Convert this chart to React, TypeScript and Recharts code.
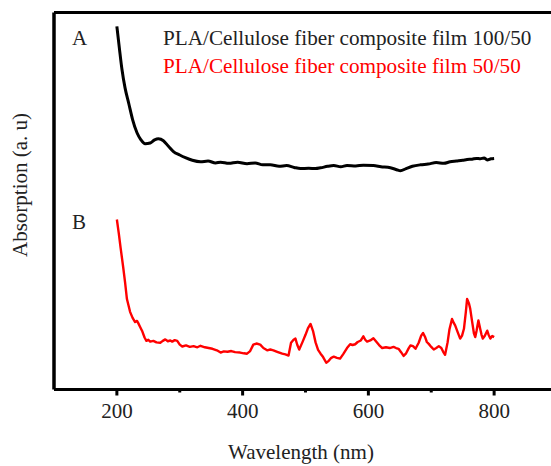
import React from 'react';
import { LineChart, Line, XAxis, YAxis, Legend, ReferenceLine, Label } from 'recharts';

const FONT = '"Liberation Serif", "Times New Roman", serif';

const xTicks = [200, 300, 400, 500, 600, 700, 800];
const majorTicks = [200, 400, 600, 800];

const seriesNames = [
  'PLA/Cellulose fiber composite film 100/50',
  'PLA/Cellulose fiber composite film 50/50',
];
const panelLabels = ['A', 'B'];

const blackWavelength = [
  200, 204, 208, 213, 219, 225, 232, 238, 245, 253, 260, 266, 274, 282, 290, 300, 309, 320, 333, 345,
  357, 365, 378, 392, 407, 420, 432, 444, 458, 470, 482, 492, 505, 516, 524, 535, 545, 556, 566, 580,
  592, 608, 620, 635, 645, 651, 660, 670, 683, 695, 708, 720, 730, 740, 750, 757, 765, 772, 778, 784,
  789, 795, 800,
];
const blackAbsorption = [
  96.3, 90.5, 85.0, 80.0, 75.8, 71.6, 68.1, 66.3, 65.2, 65.4, 66.2, 66.5, 66.0, 64.5, 63.1, 62.2, 61.5, 60.8, 60.4, 60.6,
  60.1, 60.3, 60.0, 60.3, 59.9, 60.1, 59.6, 59.6, 59.2, 59.4, 58.9, 58.6, 58.7, 58.6, 58.8, 59.2, 59.4, 59.1, 59.4, 59.3,
  59.5, 59.4, 59.1, 58.8, 58.3, 58.0, 58.6, 59.2, 59.6, 59.8, 60.2, 60.0, 60.4, 60.6, 60.8, 61.0, 61.1, 61.3, 61.2, 61.4,
  60.9, 61.2, 61.3,
];

const redWavelength = [
  200, 203, 206, 210, 213, 216, 221, 225, 229, 232, 234, 237, 240, 244, 247, 250, 253, 258, 263, 269,
  273, 277, 281, 285, 288, 292, 296, 300, 304, 310, 316, 322, 328, 333, 340, 346, 352, 359, 365, 370,
  376, 382, 388, 396, 402, 407, 412, 417, 422, 428, 433, 439, 444, 449, 455, 463, 468, 473, 477, 481,
  484, 487, 490, 495, 500, 504, 508, 512, 516, 520, 524, 528, 533, 537, 541, 545, 550, 555, 560, 566,
  571, 575, 579, 583, 588, 592, 595, 598, 603, 608, 612, 617, 622, 628, 634, 640, 644, 648, 652, 656,
  660, 664, 667, 671, 675, 680, 684, 687, 690, 693, 696, 700, 704, 708, 712, 716, 719, 722, 726, 729,
  733, 736, 738, 742, 746, 749, 752, 755, 757, 760, 762, 765, 768, 770, 772, 775, 778, 780, 782, 785,
  789, 791, 794, 797, 800,
];
const redAbsorption = [
  45.1, 41.5, 37.5, 32.5, 28.5, 24.0, 20.6, 19.0, 17.9, 18.2, 17.6, 16.6, 15.6, 13.8, 12.9, 13.2, 12.7, 12.9, 12.5, 12.4,
  12.9, 13.3, 12.8, 13.0, 12.7, 13.1, 12.9, 11.9, 11.4, 11.7, 11.3, 11.5, 11.2, 11.6, 11.2, 11.0, 10.8, 10.4, 9.8, 10.1,
  10.0, 10.2, 9.9, 9.8, 9.6, 9.5, 10.2, 11.9, 12.2, 11.9, 11.0, 10.4, 10.6, 10.4, 10.0, 9.5, 9.3, 9.0, 12.4, 13.2,
  13.5, 11.8, 10.6, 12.5, 14.5, 16.3, 17.4, 15.5, 12.5, 10.5, 9.5, 8.6, 7.1, 7.6, 8.4, 8.7, 8.4, 8.2, 9.4, 11.0,
  12.0, 11.8, 12.0, 12.6, 13.0, 14.1, 13.2, 12.7, 13.0, 13.6, 12.8, 11.8, 11.0, 11.2, 11.0, 11.3, 11.0, 10.8, 9.9, 8.9,
  9.6, 10.9, 11.7, 11.5, 10.8, 12.4, 14.3, 15.0, 14.0, 12.6, 12.1, 11.3, 10.6, 11.0, 11.5, 11.0, 10.0, 9.2, 12.5, 16.0,
  18.7, 17.6, 17.0, 15.2, 13.5, 14.3, 16.1, 20.5, 24.0, 22.8, 21.4, 18.0, 14.8, 13.9, 15.5, 18.3, 16.0, 14.5, 13.5, 14.2,
  15.6, 14.6, 13.5, 14.2, 13.9,
];

const blackData = blackWavelength.map((x, i) => ({ x, y: blackAbsorption[i] }));
const redData = redWavelength.map((x, i) => ({ x, y: redAbsorption[i] }));

const renderTick = (props: any) => {
  const { x, y, payload } = props;
  const major = majorTicks.includes(payload.value);
  return (
    <g>
      <line x1={x} x2={x} y1={y} y2={y + (major ? 6 : 3)} stroke="#000" strokeWidth={3} />
      {major && (
        <text x={x} y={y + 28.5} textAnchor="middle" fontFamily={FONT} fontSize={21} fill="#222">
          {payload.value}
        </text>
      )}
    </g>
  );
};

const xLabel = () => (
  <text x={301} y={459} textAnchor="middle" fontFamily={FONT} fontSize={21} fill="#222">
    Wavelength (nm)
  </text>
);

const yLabel = () => (
  <text
    x={27}
    y={185}
    textAnchor="middle"
    transform="rotate(-90, 27, 185)"
    fontFamily={FONT}
    fontSize={21}
    fill="#222"
  >
    Absorption (a. u)
  </text>
);

const renderOverlay = () => (
  <svg width={551} height={466} style={{ position: 'absolute', left: 0, top: 0 }}>
    <text x={72} y={45} fontFamily={FONT} fontSize={21} fill="#222">{panelLabels[0]}</text>
    <text x={72} y={229} fontFamily={FONT} fontSize={21} fill="#222">{panelLabels[1]}</text>
    <text x={163} y={45} fontFamily={FONT} fontSize={21.2} fill="#222">{seriesNames[0]}</text>
    <text x={163} y={73} fontFamily={FONT} fontSize={21.2} fill="#ff0000">{seriesNames[1]}</text>
  </svg>
);

export default function App() {
  return (
    <div style={{ position: 'absolute', left: 0, top: 0, width: 551, height: 466, overflow: 'hidden', background: '#fff' }}>
      <LineChart width={560} height={466} margin={{ top: 12.5, right: 3, bottom: 0, left: 0 }}>
        <XAxis
          type="number"
          dataKey="x"
          domain={[100, 900]}
          ticks={xTicks}
          interval={0}
          tick={renderTick}
          tickLine={false}
          tickSize={0}
          tickMargin={0}
          axisLine={{ stroke: '#000', strokeWidth: 3 }}
          height={76.5}
          allowDataOverflow
        >
          <Label content={xLabel} />
        </XAxis>
        <YAxis
          type="number"
          domain={[0, 100]}
          tick={false}
          tickLine={false}
          axisLine={{ stroke: '#000', strokeWidth: 3.5 }}
          width={54}
          allowDataOverflow
        >
          <Label content={yLabel} />
        </YAxis>
        <ReferenceLine y={100} stroke="#000" strokeWidth={3} />
        <Legend
          layout="horizontal"
          verticalAlign="middle"
          align="center"
          content={renderOverlay}
          wrapperStyle={{ left: 0, top: 0, width: 551, height: 466, pointerEvents: 'none' }}
        />
        <Line
          data={blackData}
          dataKey="y"
          name={seriesNames[0]}
          type="monotone"
          stroke="#000"
          strokeWidth={3}
          dot={false}
          strokeLinejoin="round"
          isAnimationActive={false}
        />
        <Line
          data={redData}
          dataKey="y"
          name={seriesNames[1]}
          stroke="#ff0000"
          strokeWidth={2.4}
          dot={false}
          strokeLinejoin="round"
          isAnimationActive={false}
        />
      </LineChart>
    </div>
  );
}
